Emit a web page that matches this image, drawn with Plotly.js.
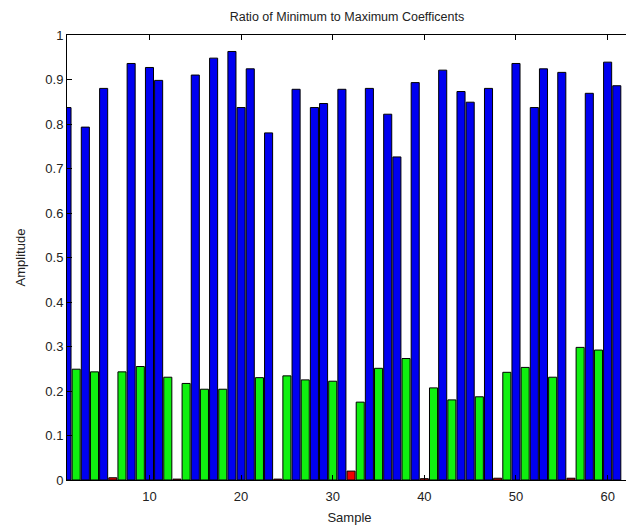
<!DOCTYPE html>
<html>
<head>
<meta charset="utf-8">
<script src="https://cdn.plot.ly/plotly-3.0.1.min.js"></script>
<style>html,body{margin:0;padding:0;background:#fff;overflow:hidden;width:626px;height:531px;}#chart{width:632px;height:531px;}</style>
</head>
<body>
<div id="chart"></div>
<script>
// Samples and their ratio values, split by bar colour class
const blueSamples = [1, 3, 5, 8, 10, 11, 15, 17, 19, 20, 21, 23, 26, 28, 29, 31, 34, 36, 37, 39, 42, 44, 45, 47, 50, 52, 53, 55, 58, 60, 61];
const blueValues  = [0.837, 0.793, 0.880, 0.936, 0.927, 0.898, 0.910, 0.948, 0.963, 0.837, 0.924, 0.780, 0.878, 0.837, 0.846, 0.878, 0.880, 0.822, 0.726, 0.893, 0.921, 0.873, 0.849, 0.880, 0.936, 0.837, 0.924, 0.916, 0.869, 0.939, 0.886];

const greenSamples = [2, 4, 7, 9, 12, 14, 16, 18, 22, 25, 27, 30, 33, 35, 38, 41, 43, 46, 49, 51, 54, 57, 59];
const greenValues  = [0.249, 0.243, 0.243, 0.255, 0.231, 0.217, 0.204, 0.204, 0.230, 0.234, 0.225, 0.222, 0.175, 0.251, 0.273, 0.207, 0.180, 0.187, 0.242, 0.253, 0.231, 0.298, 0.292];

const redSamples = [6, 13, 24, 32, 40, 48, 56];
const redValues  = [0.005, 0.002, 0.002, 0.020, 0.003, 0.004, 0.004];

const xTicks = [10, 20, 30, 40, 50, 60];
const yTicks = [0, 0.1, 0.2, 0.3, 0.4, 0.5, 0.6, 0.7, 0.8, 0.9, 1];

const barWidth = 0.88;
function barTrace(xs, ys, color) {
  return {
    type: 'bar', x: xs, y: ys, width: barWidth,
    marker: {color: color, line: {color: '#000000', width: 1}},
    hoverinfo: 'x+y', showlegend: false
  };
}

const data = [
  barTrace(blueSamples, blueValues, '#0000f0'),
  barTrace(greenSamples, greenValues, '#10f010'),
  barTrace(redSamples, redValues, '#f00000')
];

const fontFam = 'Liberation Sans, Arial, sans-serif';
const layout = {
  width: 632, height: 531,
  margin: {l: 67, r: 0, t: 35, b: 51, pad: 0},
  paper_bgcolor: '#ffffff', plot_bgcolor: '#ffffff',
  barmode: 'overlay',
  font: {family: fontFam, size: 12, color: '#222222'},
  title: {text: 'Ratio of Minimum to Maximum Coefficents', x: 0.549, xanchor: 'center', y: 0.968, yanchor: 'middle', font: {family: fontFam, size: 12.5, color: '#222222'}},
  xaxis: {
    range: [1, 62.66], tickvals: xTicks, ticktext: xTicks.map(String),
    ticks: 'inside', ticklen: 5, tickcolor: '#000', showline: true, linecolor: '#000', linewidth: 1,
    mirror: 'ticks', showgrid: false, zeroline: false,
    ticklabelstandoff: 4,
    tickfont: {size: 13, family: fontFam, color: '#222222'},
    title: {text: 'Sample', standoff: 10, font: {size: 13, family: fontFam, color: '#222222'}}
  },
  yaxis: {
    range: [0, 1], tickvals: yTicks, ticktext: yTicks.map(v => String(v)),
    ticks: 'inside', ticklen: 5, tickcolor: '#000', showline: true, linecolor: '#000', linewidth: 1,
    mirror: 'ticks', showgrid: false, zeroline: false,
    tickfont: {size: 13, family: fontFam, color: '#222222'},
    title: {text: 'Amplitude', standoff: 16, font: {size: 13, family: fontFam, color: '#222222'}}
  }
};

Plotly.newPlot('chart', data, layout, {staticPlot: true, displayModeBar: false});
</script>
</body>
</html>
